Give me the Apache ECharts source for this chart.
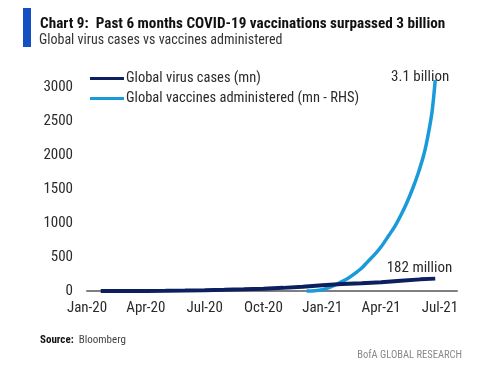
<!DOCTYPE html>
<html>
<head>
<meta charset="utf-8">
<script src="https://cdn.jsdelivr.net/npm/echarts@6/dist/echarts.min.js"></script>
<style>
html,body{margin:0;padding:0;background:#fff;}
#c{width:500px;height:365px;}
</style>
</head>
<body>
<div id="c"></div>
<script>
// x values are months since 1 Jan 2020
const xTickLabels = ['Jan-20','Apr-20','Jul-20','Oct-20','Jan-21','Apr-21','Jul-21'];
const caseMonths = [0.7, 1.0, 2.0, 3.0, 4.0, 5.0, 6.0, 7.0, 8.0, 9.0, 10.0, 11.0, 12.0, 13.0, 14.0, 15.0, 16.0, 17.0, 17.76];
const caseValues = [0.001, 0.012, 0.09, 0.9, 3.3, 6.2, 10.5, 17.6, 25.5, 34, 46, 63, 84, 103, 114, 129, 151, 171, 182];
const vaxMonths = [11.2, 11.6, 12.0, 12.3, 12.6, 12.9, 13.3, 13.6, 14.0, 14.3, 14.7, 15.0, 15.4, 15.7, 16.0, 16.3, 16.6, 16.9, 17.2, 17.4, 17.6, 17.76];
const vaxValues = [0, 4, 18, 45, 82, 125, 185, 245, 335, 425, 545, 650, 820, 950, 1110, 1290, 1500, 1740, 2030, 2300, 2640, 3100];
const caseLabel = '182 million';
const vaxLabel = '3.1 billion';
const seriesNames = ['Global virus cases (mn)', 'Global vaccines administered (mn - RHS)'];

const FONT = "'Roboto Condensed','Liberation Sans',sans-serif";
const TXT = '#2a2a2a';

const toPairs = (xs, ys) => xs.map((x, i) => [x, ys[i]]);

const chart = echarts.init(document.getElementById('c'));
chart.setOption({
  animation: false,
  backgroundColor: '#fff',
  title: [
    {text: 'Chart 9:  Past 6 months COVID-19 vaccinations surpassed 3 billion', left: 35, top: 12,
     textStyle: {fontFamily: FONT, fontSize: 15.2, fontWeight: 'bold', color: '#111'}},
    {text: 'Global virus cases vs vaccines administered', left: 34, top: 28,
     textStyle: {fontFamily: FONT, fontSize: 14, fontWeight: 'normal', color: '#333'}},
    {text: '{b|Source:}  Bloomberg', left: 35, top: 330,
     textStyle: {fontFamily: FONT, fontSize: 11, fontWeight: 'normal', color: '#444',
       rich: {b: {fontFamily: FONT, fontSize: 11, fontWeight: 'bold', color: '#111'}}}},
    {text: 'BofA GLOBAL RESEARCH', right: 33, top: 345,
     textStyle: {fontFamily: FONT, fontSize: 10.5, fontWeight: 'normal', color: '#888'}}
  ],
  graphic: [
    {type: 'rect', left: 23, top: 8, shape: {width: 8, height: 39}, style: {fill: '#1450c3'}}
  ],
  legend: {
    orient: 'vertical', left: 85, top: 66, icon: 'rect', itemWidth: 34, itemHeight: 3,
    itemGap: 5,
    textStyle: {fontFamily: FONT, fontSize: 14.5, color: TXT, padding: [0,0,0,-3]},
    data: seriesNames
  },
  grid: {left: 87, right: 43, top: 87, bottom: 74, containLabel: false},
  xAxis: {
    type: 'value', min: 0, max: 18.87, interval: 3,
    axisLine: {lineStyle: {color: '#7f7f7f', width: 2}},
    axisTick: {show: false},
    splitLine: {show: false},
    axisLabel: {
      fontFamily: FONT, fontSize: 15, color: TXT, margin: 10, showMaxLabel: false,
      formatter: v => (Math.abs(v % 3) < 1e-6 ? (xTickLabels[Math.round(v / 3)] || '') : '')
    }
  },
  yAxis: {
    type: 'value', min: 0, max: 3000, interval: 500,
    axisLine: {show: false}, axisTick: {show: false}, splitLine: {show: false},
    axisLabel: {fontFamily: FONT, fontSize: 15, color: TXT, margin: 14, formatter: v => String(v)}
  },
  series: [
    {name: seriesNames[0], type: 'line', symbol: 'none', clip: false, z: 3,
     lineStyle: {color: '#0c1f5e', width: 4}, itemStyle: {color: '#0c1f5e'},
     endLabel: {show: true, formatter: caseLabel, fontFamily: FONT, fontSize: 15, color: TXT,
       align: 'right', verticalAlign: 'bottom', distance: 0, offset: [17, -3]},
     data: toPairs(caseMonths, caseValues)},
    {name: seriesNames[1], type: 'line', symbol: 'none', clip: false, smooth: 0.3, z: 2,
     lineStyle: {color: '#1a9ad8', width: 3.5}, itemStyle: {color: '#1a9ad8'},
     endLabel: {show: true, formatter: vaxLabel, fontFamily: FONT, fontSize: 15, color: TXT,
       align: 'right', verticalAlign: 'bottom', distance: 0, offset: [14, 5]},
     data: toPairs(vaxMonths, vaxValues)}
  ]
});
</script>
</body>
</html>
